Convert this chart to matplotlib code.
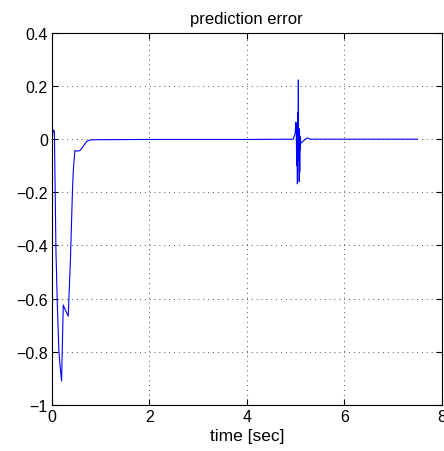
import matplotlib
matplotlib.use("Agg")
import matplotlib.pyplot as plt

# prediction error (time in sec, error)
time_sec = [0.0, 0.027, 0.05, 0.082, 0.11, 0.143, 0.17, 0.198, 0.232, 0.28, 0.334,
            0.38, 0.42, 0.436, 0.47, 0.52, 0.573, 0.63, 0.71, 0.78, 0.9, 2.0,
            4.0, 4.95, 4.99, 5.005, 5.015, 5.022, 5.03, 5.037, 5.044, 5.05, 5.057,
            5.062, 5.068, 5.074, 5.08, 5.085, 5.09, 5.095, 5.1, 5.11, 5.14, 5.2,
            5.24, 5.3, 6.0, 7.5]
error = [0.0, 0.035, 0.03, -0.42, -0.62, -0.80, -0.86, -0.91, -0.624, -0.645, -0.666,
         -0.45, -0.2, -0.124, -0.043, -0.045, -0.043, -0.03, -0.009, -0.003, -0.002, -0.001,
         -0.001, 0.0, 0.02, 0.064, 0.04, -0.10, 0.06, -0.168, 0.1, -0.05, 0.223,
         -0.08, 0.04, -0.16, 0.03, -0.124, 0.01, -0.04, -0.005, -0.015, -0.01, 0.0,
         0.005, 0.0, 0.0, 0.0]

xticks = [0, 2, 4, 6, 8]
yticks = [-1, -0.8, -0.6, -0.4, -0.2, 0, 0.2, 0.4]
ytick_labels = ['−1', '−0.8', '−0.6', '−0.4', '−0.2', '0', '0.2', '0.4']

plt.rcParams['font.family'] = ['Liberation Sans', 'DejaVu Sans']

fig = plt.figure(figsize=(4.44, 4.52), dpi=100)
ax = fig.add_axes([0.117, 0.102, 0.878, 0.823])

ax.plot(time_sec, error, color='#0000ff', linewidth=0.8)

ax.set_xlim(0, 8)
ax.set_ylim(-1, 0.4)
ax.set_xticks(xticks)
ax.set_yticks(yticks)
ax.set_yticklabels(ytick_labels)
ax.grid(True, linestyle=(0, (1, 4)), color='#555555', linewidth=0.7)
ax.tick_params(direction='in', length=4, top=True, right=True, labelsize=11.5, pad=3)
for s in ax.spines.values():
    s.set_linewidth(0.8)

ax.set_title("prediction error", fontsize=12, pad=7)
ax.set_xlabel("time [sec]", fontsize=12.5, labelpad=3)

fig.savefig("out.png", dpi=100)
